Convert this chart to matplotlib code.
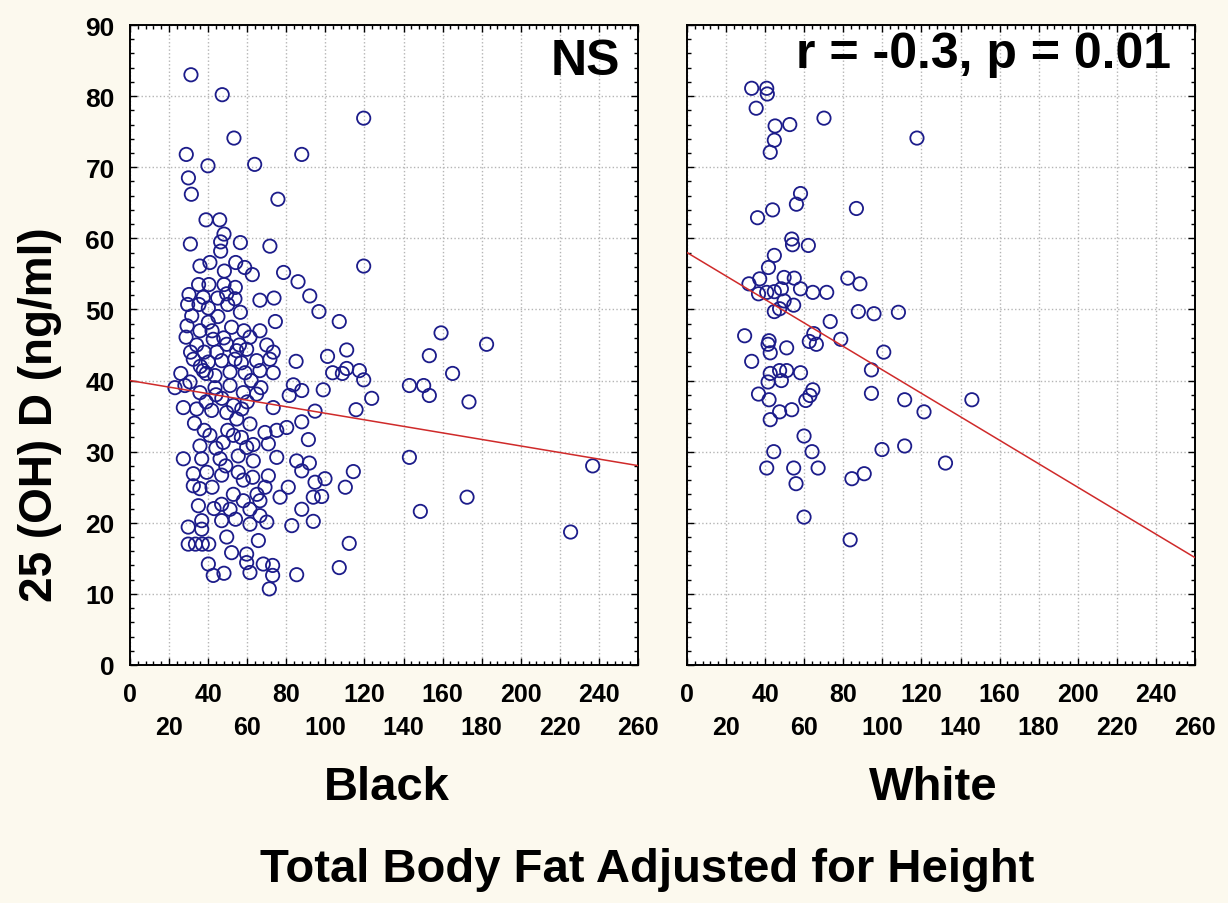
import matplotlib
matplotlib.use('Agg')
import matplotlib.pyplot as plt
from matplotlib.ticker import MultipleLocator
import numpy as np

plt.rcParams['font.family'] = ['Liberation Sans', 'DejaVu Sans']
plt.rcParams['font.weight'] = 'bold'

# ---------------- data ----------------
black_x = [31.2, 47.2, 119.6, 53.2, 28.8, 87.9, 39.9, 63.8, 29.9, 31.4, 75.7, 38.9, 45.9, 48.1,
           30.9, 56.5, 71.6, 46.4, 46.4, 119.6, 35.8, 40.9, 54.1, 58.7, 62.6, 48.3, 78.6, 86.0,
           92.0, 96.7, 107.1, 159.2, 35.1, 40.4, 48.1, 53.9, 30.2, 53.7, 66.5, 73.7, 44.9, 29.5,
           35.3, 40.1, 50.0, 56.5, 29.2, 35.8, 40.1, 58.3, 66.5, 74.4, 37.5, 49.5, 31.6, 28.7,
           61.4, 42.6, 34.1, 49.5, 44.4, 54.6, 59.7, 70.0, 73.3, 32.4, 40.1, 46.9, 53.7, 64.8,
           71.6, 85.0, 101.1, 110.9, 37.5, 43.5, 51.2, 58.9, 66.5, 73.3, 103.7, 110.9, 30.7, 83.6,
           87.9, 98.9, 23.0, 28.1, 35.8, 43.5, 51.2, 58.0, 64.8, 81.5, 27.3, 34.1, 41.8, 49.5,
           57.2, 73.3, 94.7,
           182.5, 153.2, 108.7, 117.4, 119.6, 165.1, 143.0, 150.3, 153.2, 173.5, 123.7, 115.7,
           143.0, 236.8, 114.3, 110.2, 172.5, 148.6, 225.5, 112.2, 107.1,
           54.6, 61.4, 69.1, 75.1, 80.2, 87.9, 91.3, 27.3, 35.8, 40.9, 47.7, 52.9, 59.7, 70.8,
           75.1, 36.7, 46.1, 55.4, 63.1, 85.3, 91.8, 87.9, 32.4, 39.3, 46.9, 55.4, 62.8, 70.8,
           32.4, 35.8, 69.1, 76.8, 81.0, 94.7, 99.8, 93.8, 98.1, 35.0, 46.9, 52.9, 58.0, 61.4,
           66.5, 51.2, 46.9, 36.7, 29.8, 36.7, 61.4, 66.5, 70.0, 87.9, 82.8, 93.8, 29.8, 33.5,
           37.0, 40.3, 49.5, 52.0, 59.7, 65.7, 59.7, 40.1, 42.6, 48.1, 61.4, 68.2, 73.0, 73.0,
           71.3, 85.3,
           38.0, 42.0, 45.0, 36.0, 48.0, 52.0, 56.0, 44.0, 39.0, 47.0, 53.0, 60.0, 50.0, 57.0,
           63.0, 44.0, 38.0, 33.0, 42.0, 49.0, 58.0, 65.0, 54.0, 43.0, 39.0, 62.0, 67.0, 31.0,
           26.0, 57.0]
black_y = [83.0, 80.2, 76.9, 74.1, 71.8, 71.8, 70.2, 70.4, 68.5, 66.2, 65.5, 62.6, 62.6, 60.6,
           59.2, 59.4, 58.9, 58.2, 59.5, 56.1, 56.1, 56.6, 56.6, 55.9, 54.9, 55.4, 55.2, 53.9,
           51.9, 49.7, 48.3, 46.7, 53.5, 53.5, 53.5, 53.1, 52.1, 51.5, 51.3, 51.6, 51.6, 50.7,
           50.7, 50.2, 50.7, 49.6, 47.7, 47.0, 48.2, 47.0, 47.0, 48.3, 51.7, 52.2, 49.1, 46.1,
           46.1, 45.8, 45.0, 45.1, 44.0, 44.2, 44.4, 45.0, 44.0, 43.0, 42.6, 42.8, 43.0, 42.8,
           43.0, 42.7, 43.4, 44.3, 41.4, 40.7, 41.2, 41.1, 41.4, 41.1, 41.1, 41.7, 39.8, 39.4,
           38.6, 38.7, 39.0, 39.3, 38.3, 39.0, 39.3, 38.3, 38.1, 37.9, 36.2, 36.0, 35.8, 35.5,
           36.0, 36.2, 35.7,
           45.1, 43.5, 41.0, 41.4, 40.1, 41.0, 39.3, 39.3, 37.9, 37.0, 37.5, 35.9,
           29.2, 28.0, 27.2, 25.0, 23.6, 21.6, 18.7, 17.1, 13.7,
           34.6, 33.9, 32.7, 33.0, 33.4, 34.2, 31.7, 29.0, 30.8, 32.3, 31.3, 32.3, 30.6, 31.1,
           29.2, 29.0, 29.0, 29.4, 28.7, 28.7, 28.4, 27.3, 26.9, 27.1, 26.7, 27.1, 26.4, 26.6,
           25.2, 24.8, 25.0, 23.6, 25.0, 25.7, 26.2, 23.6, 23.7, 22.4, 22.6, 24.0, 23.1, 21.9,
           23.1, 21.9, 20.3, 20.3, 19.4, 19.1, 19.8, 21.0, 20.1, 21.9, 19.6, 20.2, 17.0, 17.0,
           17.0, 17.0, 18.0, 15.8, 15.6, 17.5, 14.4, 14.2, 12.6, 12.9, 13.0, 14.2, 14.0, 12.6,
           10.7, 12.7,
           44.0, 47.0, 49.0, 42.0, 46.0, 47.5, 45.0, 38.0, 37.0, 37.5, 36.5, 37.0, 33.0, 32.0,
           31.0, 30.5, 33.0, 34.0, 25.0, 28.0, 26.0, 24.0, 20.5, 22.0, 41.0, 40.0, 39.0, 44.0,
           41.0, 42.5]

white_x = [33.1, 40.8, 41.1, 35.4, 70.1, 117.7, 45.1, 52.6, 44.7, 42.6, 58.1, 56.0, 43.8, 36.1,
           86.7, 53.6, 54.0, 62.1, 44.7, 41.7, 37.2, 31.7, 49.7, 54.9, 82.3, 88.5, 44.7, 36.6,
           40.8, 48.3, 58.1, 64.4, 71.5, 49.7, 54.6, 44.7, 47.4, 87.7, 95.7, 108.2, 73.3, 64.9,
           78.7, 29.5, 42.0,
           41.5, 42.6, 51.0, 33.1, 62.6, 66.2, 100.7, 94.4, 94.4, 111.4, 121.3, 145.8, 42.6, 47.4,
           51.0, 58.1, 41.5, 48.3, 36.6, 42.0, 64.4, 62.9, 60.8, 47.4, 53.6, 42.6, 59.9, 44.4,
           64.0, 99.8, 111.4, 132.3, 40.8, 54.6, 67.1, 55.8, 84.4, 90.7, 59.9, 83.5]
white_y = [81.1, 81.1, 80.3, 78.3, 76.9, 74.1, 75.8, 76.0, 73.8, 72.1, 66.3, 64.8, 64.0, 62.9,
           64.2, 59.9, 59.1, 59.0, 57.6, 55.9, 54.3, 53.6, 54.5, 54.4, 54.4, 53.6, 52.5, 52.2,
           52.4, 52.9, 52.9, 52.4, 52.4, 51.2, 50.6, 49.7, 50.1, 49.7, 49.4, 49.6, 48.3, 46.6,
           45.8, 46.3, 45.6,
           45.1, 43.9, 44.6, 42.7, 45.5, 45.1, 44.0, 41.5, 38.2, 37.3, 35.6, 37.3, 41.0, 41.4,
           41.4, 41.1, 39.8, 40.0, 38.1, 37.3, 38.7, 37.9, 37.2, 35.6, 35.9, 34.5, 32.2, 30.0,
           30.0, 30.3, 30.8, 28.4, 27.7, 27.7, 27.7, 25.5, 26.2, 26.9, 20.8, 17.6]

black_fit = [40.0, -0.046]   # intercept, slope of drawn regression line
white_fit = [58.0, -0.165]

x_ticks = list(range(0, 261, 20))
y_ticks = list(range(0, 91, 10))
group_labels = ['Black', 'White']
stat_labels = ['NS', 'r = -0.3, p = 0.01']
y_title = '25 (OH) D (ng/ml)'
x_title = 'Total Body Fat Adjusted for Height'

# ---------------- figure ----------------
W, H = 1228, 904
fig = plt.figure(figsize=(W / 100, H / 100), dpi=100, facecolor='#FCF9EE')
ax1 = fig.add_axes([130 / W, 1 - 666 / H, 508 / W, 640 / H])
ax2 = fig.add_axes([687 / W, 1 - 666 / H, 508 / W, 640 / H])

panels = [(ax1, black_x, black_y, black_fit, stat_labels[0], 0.965, 0.944),
          (ax2, white_x, white_y, white_fit, stat_labels[1], 0.953, 0.955)]

for i, (ax, xs, ys, fit, stat, tx, ty) in enumerate(panels):
    ax.set_facecolor('white')
    ax.set_xlim(0, 260)
    ax.set_ylim(0, 90)
    ax.grid(True, which='major', color='#b5b5b5', linestyle=':', linewidth=1.0, zorder=0)
    ax.set_axisbelow(True)
    ax.scatter(xs, ys, s=92, facecolors='none', edgecolors='#1c1c8a', linewidths=1.3, zorder=3)
    lx = np.array([0, 260])
    ax.plot(lx, fit[0] + fit[1] * lx, color='#cf2a2a', linewidth=1.1, zorder=4)
    ax.text(tx, ty, stat, transform=ax.transAxes, ha='right', va='center',
            fontsize=36, fontweight='bold', zorder=5)
    for sp in ax.spines.values():
        sp.set_linewidth(1.4)
        sp.set_color('black')
    ax.set_xticks(x_ticks)
    ax.set_yticks(y_ticks)
    ax.xaxis.set_minor_locator(MultipleLocator(4))
    ax.yaxis.set_minor_locator(MultipleLocator(2))
    ax.tick_params(which='both', direction='in', top=True, right=True, width=1.0)
    ax.tick_params(which='major', length=5)
    ax.tick_params(which='minor', length=3)
    labels = [str(v) if j % 2 == 0 else '\n' + str(v) for j, v in enumerate(x_ticks)]
    ax.set_xticklabels(labels, fontsize=18, fontweight='bold')
    ax.tick_params(axis='x', pad=12)
    for lab in ax.get_xticklabels():
        lab.set_linespacing(1.5)
    if i == 0:
        ax.set_yticklabels([str(v) for v in y_ticks], fontsize=19, fontweight='bold')
        ax.tick_params(axis='y', pad=11)
    else:
        ax.tick_params(axis='y', labelleft=False)

fig.text(40 / W, 1 - 415 / H, y_title, rotation=90, ha='center', va='center',
         fontsize=33, fontweight='bold')
fig.text(387 / W, 1 - 788 / H, group_labels[0], ha='center', va='center',
         fontsize=34, fontweight='bold')
fig.text(933 / W, 1 - 788 / H, group_labels[1], ha='center', va='center',
         fontsize=34, fontweight='bold')
fig.text(647 / W, 1 - 870 / H, x_title, ha='center', va='center',
         fontsize=34, fontweight='bold')

fig.savefig('out.png', dpi=100, facecolor=fig.get_facecolor())
